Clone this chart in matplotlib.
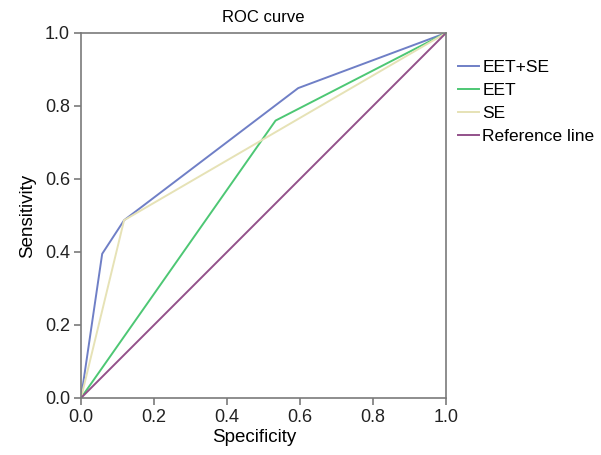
import matplotlib
matplotlib.use("Agg")
import matplotlib.pyplot as plt

plt.rcParams['font.family'] = ['Liberation Sans', 'DejaVu Sans']

eet_se_x = [0.0, 0.058, 0.118, 0.595, 1.0]
eet_se_y = [0.0, 0.395, 0.487, 0.849, 1.0]
eet_x = [0.0, 0.533, 1.0]
eet_y = [0.0, 0.760, 1.0]
se_x = [0.0, 0.118, 1.0]
se_y = [0.0, 0.487, 1.0]
ref_x = [0.0, 1.0]
ref_y = [0.0, 1.0]
ticks = [0.0, 0.2, 0.4, 0.6, 0.8, 1.0]

fig = plt.figure(figsize=(6.01, 4.55), dpi=100)
ax = fig.add_axes([0.1348, 0.1253, 0.6073, 0.8022])

ax.plot(eet_se_x, eet_se_y, color='#6f7fc6', lw=1.4, label='EET+SE')
ax.plot(eet_x, eet_y, color='#4dc774', lw=1.4, label='EET')
ax.plot(se_x, se_y, color='#e6e2b6', lw=1.4, label='SE')
ax.plot(ref_x, ref_y, color='#93518a', lw=1.4, label='Reference line')

ax.set_xlim(0, 1)
ax.set_ylim(0, 1)
ax.set_xticks(ticks)
ax.set_yticks(ticks)
ax.set_xticklabels([f'{t:.1f}' for t in ticks])
ax.set_yticklabels([f'{t:.1f}' for t in ticks])
for s in ax.spines.values():
    s.set_color('#7a7a7a')
    s.set_linewidth(1.2)
ax.tick_params(direction='out', length=5, width=1.2, color='#7a7a7a', labelsize=13,
               labelcolor='#222222', pad=3)
ax.set_title('ROC curve', fontsize=12, pad=8)
ax.set_xlabel('Specificity', fontsize=13.5, labelpad=4)
ax.set_ylabel('Sensitivity', fontsize=13.5, labelpad=6)
ax.xaxis.set_label_coords(0.474, -0.085)

leg = ax.legend(loc='upper left', bbox_to_anchor=(1.0, 0.96), frameon=False,
                fontsize=12.5, handlelength=1.2, handletextpad=0.2, labelspacing=0.45,
                borderaxespad=0.3)

fig.savefig('out.png', dpi=100)
